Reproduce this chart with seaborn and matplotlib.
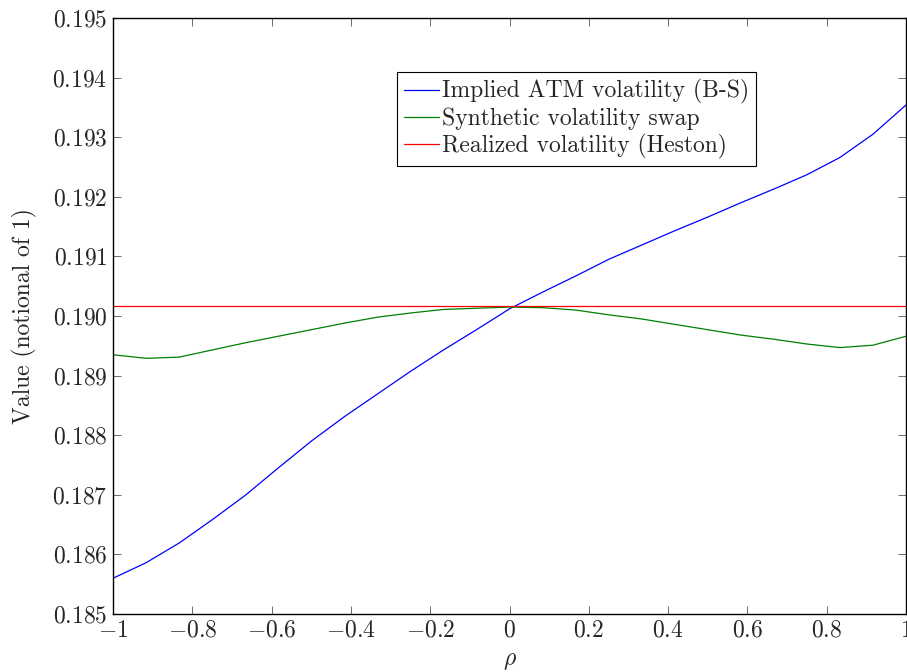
import numpy as np
import pandas as pd
import matplotlib
matplotlib.use("Agg")
import matplotlib.pyplot as plt
import seaborn as sns

# correlation grid (step 1/12)
rho = np.linspace(-1, 1, 25)

implied_atm = [0.18560, 0.18586, 0.18619, 0.18658, 0.18699, 0.18745, 0.18790,
               0.18831, 0.18869, 0.18907, 0.18943, 0.18977, 0.19012, 0.19040,
               0.19067, 0.19095, 0.19119, 0.19143, 0.19166, 0.19190, 0.19213,
               0.19237, 0.19266, 0.19305, 0.19354]

synthetic_swap = [0.18935, 0.18929, 0.18931, 0.18943, 0.18955, 0.18966, 0.18977,
                  0.18988, 0.18998, 0.19005, 0.19011, 0.19013, 0.19015, 0.19014,
                  0.19010, 0.19002, 0.18995, 0.18986, 0.18977, 0.18968, 0.18961,
                  0.18953, 0.18947, 0.18951, 0.18966]

realized_heston = [0.19016] * 25

labels = ["Implied ATM volatility (B-S)", "Synthetic volatility swap",
          "Realized volatility (Heston)"]
colors = ["#0000ff", "#008000", "#ff0000"]

x_ticks = [-1, -0.8, -0.6, -0.4, -0.2, 0, 0.2, 0.4, 0.6, 0.8, 1]
x_tick_labels = [r"$-1$", r"$-0.8$", r"$-0.6$", r"$-0.4$", r"$-0.2$", r"$0$",
                 r"$0.2$", r"$0.4$", r"$0.6$", r"$0.8$", r"$1$"]
y_ticks = [0.185, 0.186, 0.187, 0.188, 0.189, 0.190, 0.191, 0.192, 0.193,
           0.194, 0.195]

df = pd.DataFrame({
    "rho": np.tile(rho, 3),
    "value": implied_atm + synthetic_swap + realized_heston,
    "series": np.repeat(labels, len(rho)),
})

sns.set_style("ticks")
plt.rcParams["font.family"] = "serif"
plt.rcParams["font.serif"] = ["cmr10", "DejaVu Serif"]
plt.rcParams["mathtext.fontset"] = "cm"
plt.rcParams["axes.formatter.use_mathtext"] = True

fig, ax = plt.subplots(figsize=(9.07, 6.72), dpi=100)
fig.subplots_adjust(left=113/907, right=906/907, top=1-18/672, bottom=1-614/672)

sns.lineplot(data=df, x="rho", y="value", hue="series", hue_order=labels,
             palette=colors, linewidth=0.9, ax=ax)

ax.set_xlim(-1, 1)
ax.set_ylim(0.185, 0.195)
ax.set_xticks(x_ticks)
ax.set_xticklabels(x_tick_labels)
ax.set_yticks(y_ticks)
ax.set_yticklabels([r"$%.3f$" % v for v in y_ticks])
ax.tick_params(direction="in", length=6, width=0.6, color="#555555",
               labelsize=17, top=True, right=True, pad=4)
for s in ax.spines.values():
    s.set_color("black")
    s.set_linewidth(1.0)

ax.set_xlabel(r"$\rho$", fontsize=17, labelpad=6)
ax.set_ylabel("Value (notional of 1)", fontsize=17, labelpad=11)

leg = ax.legend(loc="upper left", bbox_to_anchor=(0.358, 0.909),
                borderaxespad=0, fontsize=17, frameon=True, fancybox=False,
                framealpha=1, edgecolor="black", handlelength=1.5,
                handletextpad=0.1, labelspacing=0.15, borderpad=0.3)
leg.get_frame().set_linewidth(0.8)

fig.savefig("out.png", dpi=100)
